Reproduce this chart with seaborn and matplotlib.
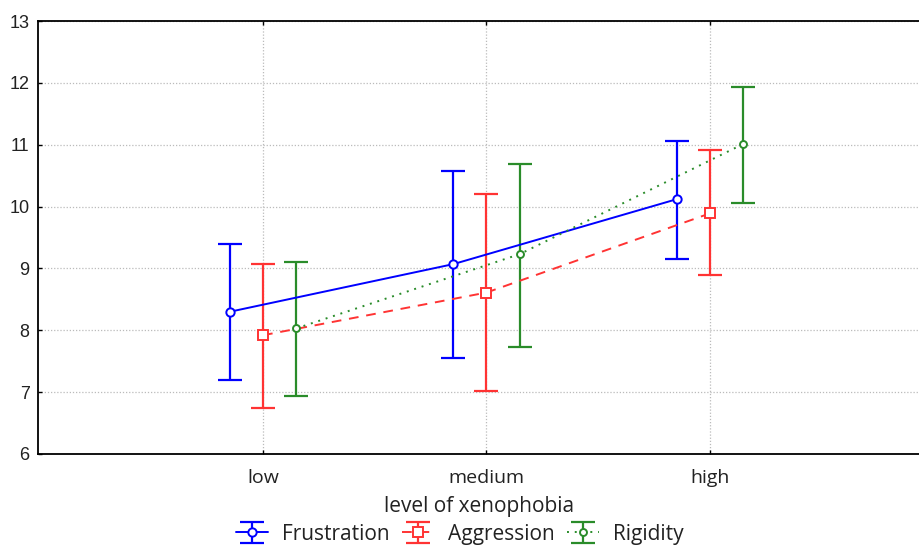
import matplotlib
matplotlib.use("Agg")
import matplotlib.pyplot as plt
import seaborn as sns
import pandas as pd
import numpy as np
from matplotlib.legend_handler import HandlerTuple

categories = ["low", "medium", "high"]
series = ["Frustration", "Aggression", "Rigidity"]

frustration_mean = [8.30, 9.07, 10.12]
frustration_low = [7.19, 7.56, 9.16]
frustration_high = [9.39, 10.57, 11.06]

aggression_mean = [7.92, 8.61, 9.89]
aggression_low = [6.74, 7.02, 8.89]
aggression_high = [9.07, 10.21, 10.92]

rigidity_mean = [8.03, 9.23, 11.01]
rigidity_low = [6.94, 7.73, 10.05]
rigidity_high = [9.11, 10.69, 11.93]

yticks = [6, 7, 8, 9, 10, 11, 12, 13]

means = [frustration_mean, aggression_mean, rigidity_mean]
lows = [frustration_low, aggression_low, rigidity_low]
highs = [frustration_high, aggression_high, rigidity_high]
colors = ["#0000FF", "#FF3333", "#2A8C2A"]
styles = ["-", (0, (5, 4)), (0, (1, 3))]
markers = ["o", "s", "o"]
msizes = [6, 7, 5]
offsets = [-0.148, 0.0, 0.148]

sns.set_style("white")
fig = plt.figure(figsize=(9.2, 5.47), dpi=100)
ax = fig.add_axes([38 / 920, 1 - 454 / 547, 1 - 38 / 920, (454 - 21) / 547])

handles = []
for i, name in enumerate(series):
    xs = np.arange(len(categories)) + offsets[i]
    df = pd.DataFrame({"x": xs, "y": means[i]})
    n_before = len(ax.lines)
    sns.lineplot(data=df, x="x", y="y", ax=ax, color=colors[i], linestyle=styles[i],
                 linewidth=1.4, marker=markers[i], markersize=msizes[i],
                 markerfacecolor="white", markeredgecolor=colors[i], markeredgewidth=1.4,
                 legend=False, zorder=4)
    line = ax.lines[n_before]
    m = np.array(means[i])
    yerr = np.vstack([m - np.array(lows[i]), np.array(highs[i]) - m])
    cont = ax.errorbar(xs, m, yerr=yerr, fmt="none", ecolor=colors[i], elinewidth=1.6,
                       capsize=8.5, capthick=1.6, zorder=3)
    handles.append((cont, line))

ax.set_xlim(-1.007, 2.94)
ax.set_ylim(6, 13)
ax.set_xticks(range(len(categories)))
ax.set_xticklabels(categories, fontfamily="Open Sans", fontsize=14, color="#222222")
ax.set_yticks(yticks)
ax.set_yticklabels([str(t) for t in yticks], fontfamily="Liberation Sans", fontsize=13, color="#222222")
ax.tick_params(axis="both", direction="in", length=3, width=1, color="black",
               top=True, bottom=True, left=True, right=False)
ax.tick_params(axis="x", pad=11)
ax.tick_params(axis="y", pad=6)
ax.grid(True, color="#BBBBBB", linestyle=(0, (1, 1.5)), linewidth=0.9)
ax.set_axisbelow(True)
for s in ["left", "top", "bottom"]:
    ax.spines[s].set_color("black")
    ax.spines[s].set_linewidth(1.3)
ax.spines["right"].set_visible(False)

ax.set_xlabel("level of xenophobia", fontfamily="Open Sans", fontsize=15, color="#222222", labelpad=6)
ax.set_ylabel("")

leg = fig.legend(handles, series, loc="lower center", bbox_to_anchor=(0.5, -0.03), ncol=3,
                 frameon=False, prop={"family": "Open Sans", "size": 15},
                 handler_map={tuple: HandlerTuple(ndivide=1)},
                 handlelength=1.5, handletextpad=0.7, columnspacing=0.6)
for t in leg.get_texts():
    t.set_color("#222222")

fig.savefig("out.png", dpi=100, facecolor="white")
